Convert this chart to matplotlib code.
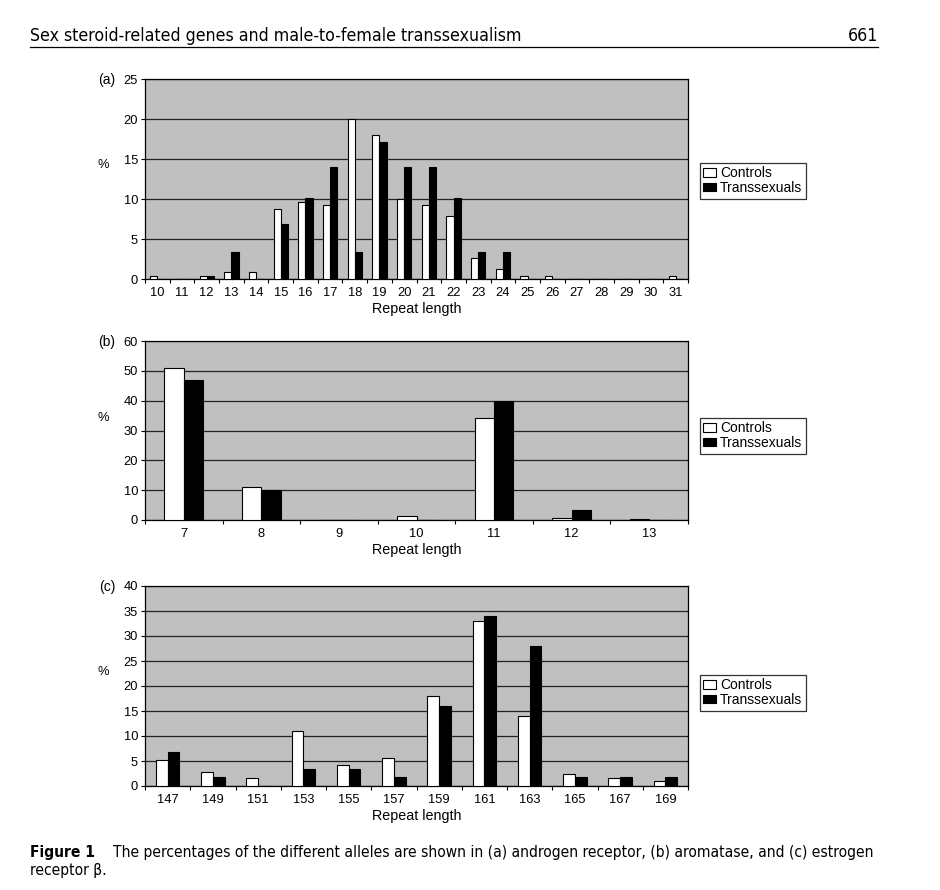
import numpy as np
import matplotlib
matplotlib.use('Agg')
import matplotlib.pyplot as plt
from matplotlib.lines import Line2D

plt.rcParams['font.family'] = ['Liberation Sans', 'DejaVu Sans']

# (a) androgen receptor
a_len = [str(v) for v in range(10, 32)]
a_ctrl = [0.4, 0, 0.4, 0.9, 0.9, 8.8, 9.6, 9.2, 20, 18, 10, 9.2, 7.9, 2.6, 1.3,
          0.4, 0.4, 0, 0, 0, 0, 0.4]
a_trans = [0, 0, 0.4, 3.4, 0, 6.9, 10.1, 14, 3.4, 17.1, 14, 14, 10.1, 3.4, 3.4,
           0, 0, 0, 0, 0, 0, 0]

# (b) aromatase
b_len = [str(v) for v in range(7, 14)]
b_ctrl = [51, 11, 0, 1.5, 34.2, 0.8, 0.5]
b_trans = [47, 10, 0, 0, 40, 3.3, 0]

# (c) estrogen receptor beta
c_len = [str(v) for v in range(147, 170, 2)]
c_ctrl = [5.2, 2.8, 1.6, 11, 4.2, 5.6, 18, 33, 14, 2.4, 1.6, 1.0]
c_trans = [6.9, 1.8, 0, 3.4, 3.4, 1.8, 16, 34, 28, 1.8, 1.8, 1.8]

W, H = 940, 890
fig = plt.figure(figsize=(W / 100, H / 100), dpi=100)


def panel(top, bot, tag, labels, ctrl, trans, ymax, ystep, bw, leg_top):
    ax = fig.add_axes([145 / W, 1 - bot / H, 543 / W, (bot - top) / H])
    n = len(labels)
    x = np.arange(n)
    ax.set_facecolor('#c0c0c0')
    ax.bar(x - bw / 2, ctrl, bw, color='white', edgecolor='black', lw=0.8,
           label='Controls', zorder=3)
    ax.bar(x + bw / 2, trans, bw, color='black', edgecolor='black', lw=0.8,
           label='Transsexuals', zorder=3)
    ax.set_xlim(-0.5, n - 0.5)
    ax.set_ylim(0, ymax)
    ax.set_yticks(np.arange(0, ymax + 0.1, ystep))
    ax.set_xticks(x)
    ax.set_xticklabels(labels)
    ax.set_xticks(np.arange(n + 1) - 0.5, minor=True)
    ax.tick_params(axis='x', which='major', length=0, labelsize=9.3, pad=6)
    ax.tick_params(axis='x', which='minor', length=3, width=0.8)
    ax.tick_params(axis='y', length=3, width=0.8, labelsize=9.3, pad=2)
    ax.yaxis.grid(True, color='#222222', lw=0.9)
    ax.set_axisbelow(True)
    for s in ax.spines.values():
        s.set_linewidth(0.9)
    ax.set_xlabel('Repeat length', fontsize=10.3, labelpad=2)
    fig.text(107 / W, 1 - (top + 1) / H, tag, fontsize=10, ha='center', va='center')
    fig.text(103 / W, 1 - (top + (bot - top) * 0.43) / H, '%', fontsize=9.3,
             ha='center', va='center')
    leg = ax.legend(loc='upper left', bbox_to_anchor=(700 / W, 1 - leg_top / H),
                    bbox_transform=fig.transFigure, borderaxespad=0,
                    frameon=True, fancybox=False, fontsize=10,
                    handlelength=0.9, handleheight=0.55, handletextpad=0.3,
                    labelspacing=0.05, borderpad=0.25)
    leg.get_frame().set_edgecolor('black')
    leg.get_frame().set_linewidth(0.9)
    return ax


panel(79, 279, '(a)', a_len, a_ctrl, a_trans, 25, 5, 0.29, 163)
panel(341, 520, '(b)', b_len, b_ctrl, b_trans, 60, 10, 0.25, 418)
panel(586, 786, '(c)', c_len, c_ctrl, c_trans, 40, 5, 0.26, 675)

# page header
hdr = dict(family='DejaVu Sans', stretch='condensed', fontsize=12.7)
fig.text(30 / W, 1 - 36 / H, 'Sex steroid-related genes and male-to-female transsexualism',
         va='center', ha='left', **hdr)
fig.text(878 / W, 1 - 36 / H, '661', va='center', ha='right', **hdr)
fig.add_artist(Line2D([30 / W, 878 / W], [1 - 47 / H, 1 - 47 / H], color='black', lw=0.9))

# caption
cap = dict(family='DejaVu Sans', stretch='condensed', fontsize=11.2)
fig.text(30 / W, 1 - 852 / H, 'Figure 1', va='center', ha='left', weight='bold', **cap)
fig.text(113 / W, 1 - 852 / H,
         'The percentages of the different alleles are shown in (a) androgen receptor, '
         '(b) aromatase, and (c) estrogen',
         va='center', ha='left', **cap)
fig.text(30 / W, 1 - 871 / H, 'receptor \u03b2.', va='center', ha='left', **cap)

fig.savefig('out.png', dpi=100)
